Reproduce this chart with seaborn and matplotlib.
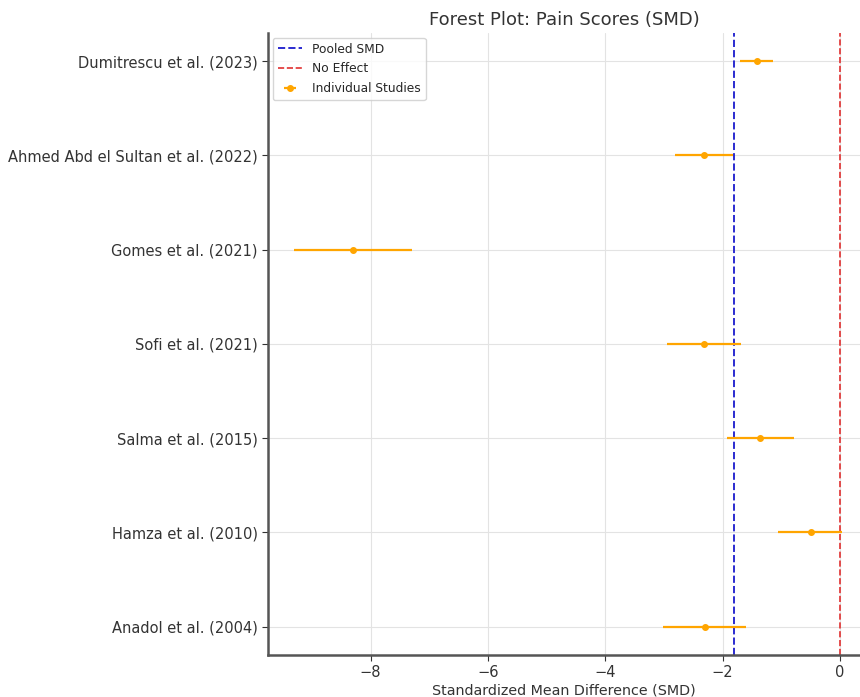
import matplotlib
matplotlib.use("Agg")
import matplotlib.pyplot as plt
import seaborn as sns
import pandas as pd

studies = [
    "Dumitrescu et al. (2023)",
    "Ahmed Abd el Sultan et al. (2022)",
    "Gomes et al. (2021)",
    "Sofi et al. (2021)",
    "Salma et al. (2015)",
    "Hamza et al. (2010)",
    "Anadol et al. (2004)",
]
smd = [-1.42, -2.32, -8.30, -2.32, -1.36, -0.50, -2.31]
ci_lower = [-1.70, -2.82, -9.30, -2.95, -1.92, -1.05, -3.01]
ci_upper = [-1.14, -1.82, -7.30, -1.68, -0.79, 0.03, -1.60]
pooled_smd = -1.81

df = pd.DataFrame({"study": studies, "smd": smd, "lo": ci_lower, "hi": ci_upper})
df["pos"] = range(len(df))

sns.set_style("whitegrid")
plt.rcParams["font.family"] = ["DejaVu Sans"]
plt.rcParams["xtick.bottom"] = True
plt.rcParams["ytick.left"] = True

fig = plt.figure(figsize=(8.6, 6.97), dpi=100)
ax = fig.add_axes([0.3116, 0.0603, 0.6884, 0.8924])

xerr = [df["smd"] - df["lo"], df["hi"] - df["smd"]]
ax.errorbar(df["smd"], df["pos"], xerr=xerr, fmt="o", color="orange",
            ecolor="orange", elinewidth=1.6, markersize=4, capsize=0,
            label="Individual Studies", zorder=3)
ax.axvline(pooled_smd, color="#2b2bd0", linestyle="--", linewidth=1.4, label="Pooled SMD")
ax.axvline(0, color="#e03030", linestyle="--", linewidth=1.2, label="No Effect")

ax.set_yticks(df["pos"])
ax.set_yticklabels(df["study"], fontsize=10.5)
ax.set_ylim(6.3, -0.3)
ax.set_xlim(-9.75, 0.34)
ax.set_xticks([-8, -6, -4, -2, 0])
ax.tick_params(axis="x", labelsize=10.5, colors="#333333", length=4)
ax.tick_params(axis="y", colors="#333333", length=4)

ax.set_xlabel("Standardized Mean Difference (SMD)", fontsize=10.3, color="#333333", labelpad=2)
ax.set_title("Forest Plot: Pain Scores (SMD)", fontsize=13, color="#333333", pad=6)

ax.grid(True, color="#e3e3e3", linewidth=0.8)
for side in ["top", "right"]:
    ax.spines[side].set_visible(False)
for side in ["left", "bottom"]:
    ax.spines[side].set_color("#555555")
    ax.spines[side].set_linewidth(1.8)

handles, labels = ax.get_legend_handles_labels()
order = [labels.index(l) for l in ["Pooled SMD", "No Effect", "Individual Studies"]]
ax.legend([handles[i] for i in order], [labels[i] for i in order],
          loc="upper left", fontsize=8.8, frameon=True, borderaxespad=0.4,
          labelspacing=0.55)

fig.savefig("out.png", dpi=100)
